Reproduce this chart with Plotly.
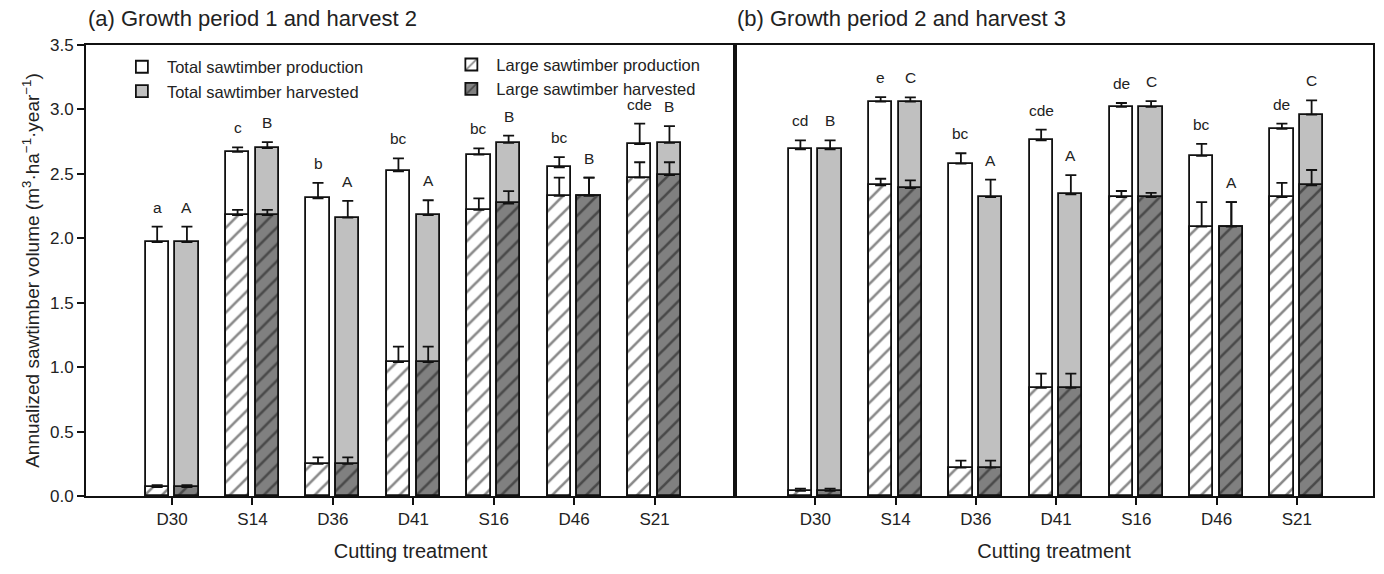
import plotly.graph_objects as go

categories = ["D30", "S14", "D36", "D41", "S16", "D46", "S21"]

# Panel (a): Growth period 1 and harvest 2
a_total_prod = [1.97, 2.67, 2.31, 2.52, 2.65, 2.55, 2.73]
a_total_prod_err = [0.12, 0.035, 0.12, 0.10, 0.047, 0.08, 0.16]
a_total_harv = [1.97, 2.70, 2.16, 2.18, 2.74, 2.33, 2.74]
a_total_harv_err = [0.12, 0.046, 0.13, 0.115, 0.057, 0.14, 0.13]
a_large_prod = [0.07, 2.18, 0.25, 1.04, 2.22, 2.33, 2.47]
a_large_prod_err = [0.015, 0.04, 0.05, 0.12, 0.09, 0.14, 0.12]
a_large_harv = [0.07, 2.18, 0.25, 1.04, 2.27, 2.33, 2.49]
a_large_harv_err = [0.015, 0.04, 0.05, 0.12, 0.096, 0.14, 0.10]
a_letters_prod = ["a", "c", "b", "bc", "bc", "bc", "cde"]
a_letters_harv = ["A", "B", "A", "A", "B", "B", "B"]

# Panel (b): Growth period 2 and harvest 3
b_total_prod = [2.69, 3.06, 2.58, 2.76, 3.02, 2.64, 2.85]
b_total_prod_err = [0.07, 0.036, 0.08, 0.083, 0.03, 0.093, 0.04]
b_total_harv = [2.69, 3.06, 2.32, 2.34, 3.02, 2.09, 2.96]
b_total_harv_err = [0.07, 0.034, 0.135, 0.15, 0.044, 0.19, 0.11]
b_large_prod = [0.04, 2.41, 0.22, 0.84, 2.32, 2.09, 2.32]
b_large_prod_err = [0.018, 0.052, 0.054, 0.11, 0.047, 0.19, 0.11]
b_large_harv = [0.04, 2.39, 0.22, 0.84, 2.32, 2.09, 2.41]
b_large_harv_err = [0.018, 0.06, 0.054, 0.11, 0.033, 0.19, 0.12]
b_letters_prod = ["cd", "e", "bc", "cde", "de", "bc", "de"]
b_letters_harv = ["B", "C", "A", "A", "C", "A", "C"]

FONT = "Liberation Sans, Arial, sans-serif"
TXT = "#222"
LIGHT = "#c0c0c0"
DARK = "#808080"
W = 0.29
OFF_L = -0.33
OFF_R = 0.04
XPOS = list(range(len(categories)))

fig = go.Figure()


def err(arr):
    return dict(type="data", array=arr, arrayminus=[0] * len(arr), symmetric=False,
                color="#111", thickness=1.8, width=5.5)


def hatch(bg):
    return dict(shape="/", fgcolor="#111", bgcolor=bg, size=12, solidity=0.22, fillmode="overlay")


def add_panel(xa, ya, tp, tpe, th, the, lp, lpe, lh, lhe, show):
    outline = dict(color="#111", width=1.8)
    fig.add_trace(go.Bar(x=XPOS, y=tp, width=W, offset=OFF_L, name="Total sawtimber production",
                         marker=dict(color="white", line=outline),
                         error_y=err(tpe), xaxis=xa, yaxis=ya, showlegend=show, legend="legend"))
    fig.add_trace(go.Bar(x=XPOS, y=th, width=W, offset=OFF_R, name="Total sawtimber harvested",
                         marker=dict(color=LIGHT, line=outline),
                         error_y=err(the), xaxis=xa, yaxis=ya, showlegend=show, legend="legend"))
    fig.add_trace(go.Bar(x=XPOS, y=lp, width=W, offset=OFF_L, name="Large sawtimber production",
                         marker=dict(color="white", line=outline, pattern=hatch("white")),
                         error_y=err(lpe), xaxis=xa, yaxis=ya, showlegend=show, legend="legend2"))
    fig.add_trace(go.Bar(x=XPOS, y=lh, width=W, offset=OFF_R, name="Large sawtimber harvested",
                         marker=dict(color=DARK, line=outline, pattern=hatch(DARK)),
                         error_y=err(lhe), xaxis=xa, yaxis=ya, showlegend=show, legend="legend2"))


add_panel("x", "y", a_total_prod, a_total_prod_err, a_total_harv, a_total_harv_err,
          a_large_prod, a_large_prod_err, a_large_harv, a_large_harv_err, True)
add_panel("x2", "y2", b_total_prod, b_total_prod_err, b_total_harv, b_total_harv_err,
          b_large_prod, b_large_prod_err, b_large_harv, b_large_harv_err, False)

annotations = []


def add_letters(xref, yref, tp, tpe, th, the, lp_letters, lh_letters):
    for i in XPOS:
        top_p = tp[i] + tpe[i]
        top_h = th[i] + the[i]
        annotations.append(dict(x=i + OFF_L + W / 2, y=top_p + 0.07, xref=xref, yref=yref,
                                text=lp_letters[i], showarrow=False, yanchor="bottom",
                                font=dict(size=15.5, family=FONT, color=TXT)))
        annotations.append(dict(x=i + OFF_R + W / 2, y=top_h + 0.07, xref=xref, yref=yref,
                                text=lh_letters[i], showarrow=False, yanchor="bottom",
                                font=dict(size=15.5, family=FONT, color=TXT)))


add_letters("x", "y", a_total_prod, a_total_prod_err, a_total_harv, a_total_harv_err,
            a_letters_prod, a_letters_harv)
add_letters("x2", "y2", b_total_prod, b_total_prod_err, b_total_harv, b_total_harv_err,
            b_letters_prod, b_letters_harv)

annotations.append(dict(x=0.0, y=1.0, xref="paper", yref="paper", yanchor="bottom", yshift=12,
                        xanchor="left", showarrow=False, text="(a) Growth period 1 and harvest 2",
                        font=dict(size=22, family=FONT, color=TXT)))
annotations.append(dict(x=0.5045, y=1.0, xref="paper", yref="paper", yanchor="bottom", yshift=12,
                        xanchor="left", showarrow=False, text="(b) Growth period 2 and harvest 3",
                        font=dict(size=22, family=FONT, color=TXT)))

split = 650 / 1289

axis_common = dict(showline=True, linecolor="#111", linewidth=1.8, mirror=True,
                   ticks="outside", ticklen=7, tickwidth=1.5, tickcolor="#111",
                   tickfont=dict(size=17, family=FONT, color=TXT), showgrid=False,
                   zeroline=False)

xtitle = dict(text="Cutting treatment", font=dict(size=20, family=FONT, color=TXT), standoff=16)

fig.update_layout(
    width=1384, height=574,
    margin=dict(l=86, r=9, t=45, b=78),
    paper_bgcolor="white", plot_bgcolor="white",
    barmode="overlay",
    bargap=0,
    font=dict(family=FONT, color=TXT),
    xaxis=dict(domain=[0, split], range=[-1.07, 7.0], tickvals=XPOS, ticktext=categories,
               title=xtitle, **axis_common),
    xaxis2=dict(domain=[split, 1], range=[-1.0, 6.95], tickvals=XPOS, ticktext=categories,
                anchor="y2", title=xtitle, **axis_common),
    yaxis=dict(range=[0, 3.5], dtick=0.5, tickformat=".1f",
               title=dict(text="Annualized sawtimber volume (m<sup>3</sup>·ha<sup>−1</sup>·year<sup>−1</sup>)",
                          font=dict(size=19, family=FONT, color=TXT), standoff=5),
               **axis_common),
    yaxis2=dict(range=[0, 3.5], anchor="x2", showticklabels=False,
                **{**axis_common, "ticks": ""}),
    legend=dict(x=0.024, y=0.99, xanchor="left", yanchor="top", bgcolor="rgba(0,0,0,0)",
                font=dict(size=16.5, family=FONT, color=TXT), tracegroupgap=0, itemwidth=40),
    legend2=dict(x=0.28, y=0.995, xanchor="left", yanchor="top", bgcolor="rgba(0,0,0,0)",
                 font=dict(size=16.5, family=FONT, color=TXT), tracegroupgap=0, itemwidth=40),
    annotations=annotations,
)

fig.write_html("out.html")
